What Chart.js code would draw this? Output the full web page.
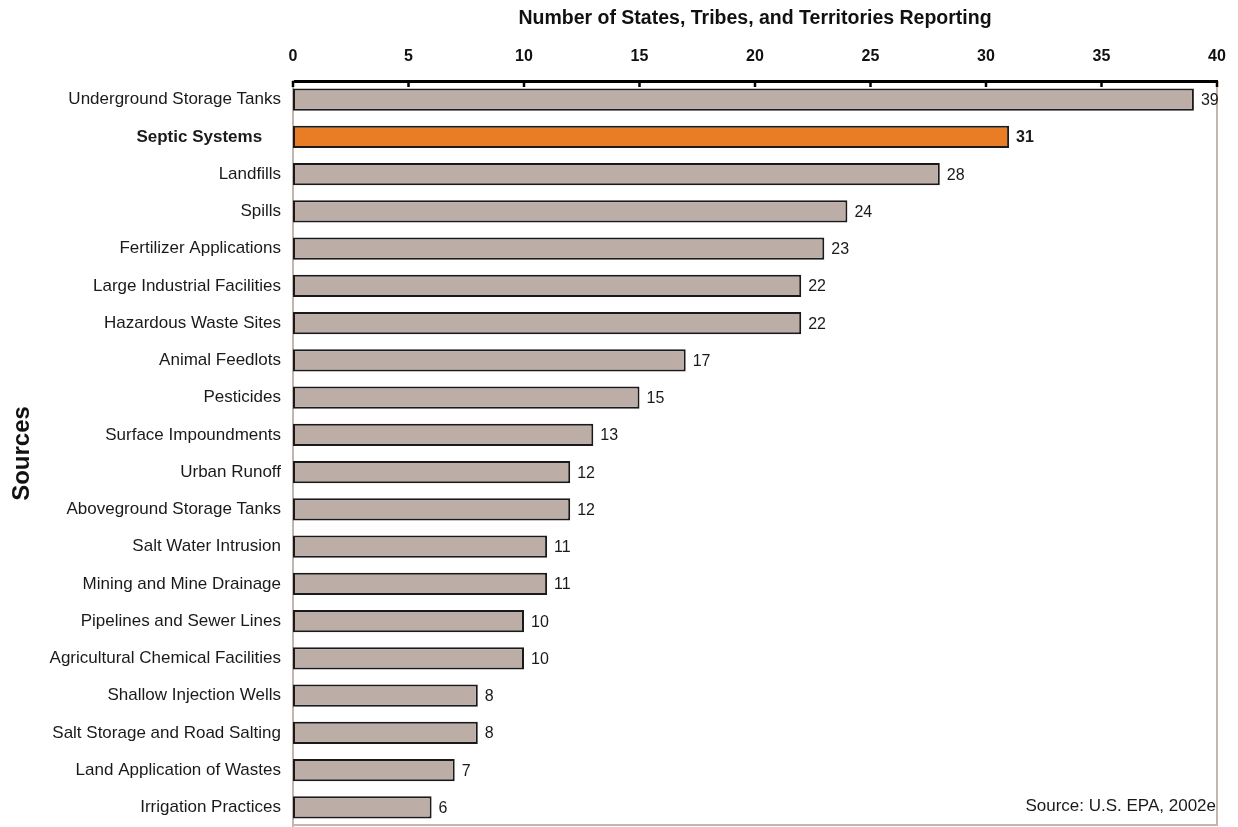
<!DOCTYPE html>
<html>
<head>
<meta charset="utf-8">
<script src="https://cdn.jsdelivr.net/npm/chart.js@4.4.1/dist/chart.umd.min.js"></script>
<style>
  html, body { margin: 0; padding: 0; background: #fff; }
  #wrap { width: 1238px; height: 827px; }
</style>
</head>
<body>
<div id="wrap"><canvas id="myChart"></canvas></div>
<script>
const sources = [
  'Underground Storage Tanks', 'Septic Systems', 'Landfills', 'Spills',
  'Fertilizer Applications', 'Large Industrial Facilities', 'Hazardous Waste Sites',
  'Animal Feedlots', 'Pesticides', 'Surface Impoundments', 'Urban Runoff',
  'Aboveground Storage Tanks', 'Salt Water Intrusion', 'Mining and Mine Drainage',
  'Pipelines and Sewer Lines', 'Agricultural Chemical Facilities', 'Shallow Injection Wells',
  'Salt Storage and Road Salting', 'Land Application of Wastes', 'Irrigation Practices'
];
const reporting = [39, 31, 28, 24, 23, 22, 22, 17, 15, 13, 12, 12, 11, 11, 10, 10, 8, 8, 7, 6];
const highlight = 'Septic Systems';
const xTicks = [0, 5, 10, 15, 20, 25, 30, 35, 40];

const FONT = 'Arial, "Liberation Sans", sans-serif';
const TAN = '#c4b5ad';

// tick marks pointing down from the top axis, plus right/bottom frame and labels
const extras = {
  id: 'extras',
  afterDatasetsDraw(chart) {
    const c = chart.ctx;
    const area = chart.chartArea;
    const xs = chart.scales.x;
    c.save();
    // frame right & bottom
    c.strokeStyle = TAN;
    c.lineWidth = 2;
    c.beginPath();
    c.moveTo(area.right, area.top);
    c.lineTo(area.right, area.bottom);
    c.moveTo(area.left, area.bottom - 1);
    c.lineTo(area.right, area.bottom - 1);
    c.stroke();
    // ticks
    c.strokeStyle = '#000';
    c.lineWidth = 2.5;
    xTicks.forEach(v => {
      const px = xs.getPixelForValue(v);
      c.beginPath();
      c.moveTo(px, area.top);
      c.lineTo(px, area.top + 6);
      c.stroke();
    });
    // value labels
    const meta = chart.getDatasetMeta(0);
    c.textBaseline = 'middle';
    c.textAlign = 'left';
    c.fillStyle = '#1a1a1a';
    meta.data.forEach((bar, i) => {
      const bold = sources[i] === highlight;
      c.font = (bold ? 'bold ' : '') + '16px ' + FONT;
      c.fillText(String(reporting[i]), bar.x + 7, bar.y + 1);
    });
    // source note
    c.font = '17px ' + FONT;
    c.textAlign = 'right';
    c.fillText('Source: U.S. EPA, 2002e', area.right - 1, 806);
    c.restore();
  }
};

new Chart(document.getElementById('myChart'), {
  type: 'bar',
  data: {
    labels: sources,
    datasets: [{
      data: reporting,
      backgroundColor: sources.map(s => s === highlight ? '#e87d25' : '#bcaea7'),
      borderColor: '#1a1a1a',
      borderWidth: 2,
      borderSkipped: false,
      barPercentage: 0.6,
      categoryPercentage: 1.0
    }]
  },
  options: {
    indexAxis: 'y',
    responsive: true,
    maintainAspectRatio: false,
    animation: false,
    layout: { padding: { left: 0, right: 21, top: 0, bottom: 1 } },
    plugins: {
      legend: { display: false },
      tooltip: { enabled: false }
    },
    scales: {
      x: {
        position: 'top',
        min: 0,
        max: 40,
        afterBuildTicks: scale => { scale.ticks = xTicks.map(v => ({ value: v })); },
        afterFit: scale => {
          scale.height = 81;
          scale.paddingLeft = 0;
          scale.paddingRight = 0;
        },
        grid: { display: false, drawTicks: false },
        border: { display: true, color: '#000', width: 3 },
        ticks: {
          padding: 15,
          color: '#111',
          font: { family: FONT, size: 16, weight: 'bold' }
        },
        title: {
          display: true,
          text: 'Number of States, Tribes, and Territories Reporting',
          color: '#111',
          padding: { top: 7, bottom: 0 },
          font: { family: FONT, size: 19.5, weight: 'bold' }
        }
      },
      y: {
        afterFit: scale => {
          scale.width = 293;
          scale.paddingTop = 0;
          scale.paddingBottom = 0;
        },
        grid: { display: false, drawTicks: false },
        border: { display: true, color: TAN, width: 2 },
        ticks: {
          padding: 12,
          color: '#1a1a1a',
          // the highlighted label sits a little further from the axis
          callback: (val, i) => sources[i] === highlight ? sources[i] + '    ' : sources[i],
          font: ctx => ({
            family: FONT,
            size: 17,
            weight: sources[ctx.index] === highlight ? 'bold' : 'normal'
          })
        },
        title: {
          display: true,
          text: 'Sources',
          color: '#111',
          padding: { top: 8, bottom: 0 },
          font: { family: FONT, size: 24, weight: 'bold' }
        }
      }
    }
  },
  plugins: [extras]
});
</script>
</body>
</html>
